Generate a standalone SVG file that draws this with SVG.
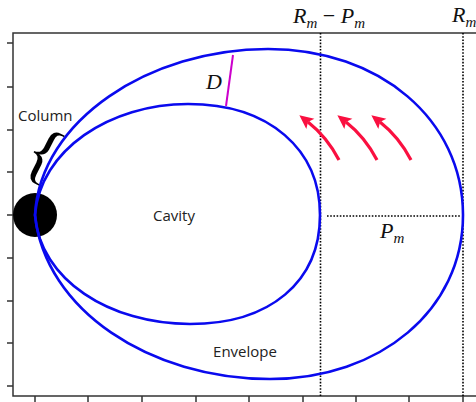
<svg xmlns="http://www.w3.org/2000/svg" width="476" height="402" viewBox="0 0 476 402">
<style>
.frame{stroke:#333;stroke-width:1.5;fill:none}
.tick{stroke:#333;stroke-width:1.5}
.dot{stroke:#000;stroke-width:1.6;stroke-dasharray:1.6,1.6;fill:none}
.blue{stroke:#0a0aee;stroke-width:2.6;fill:none}
.red{stroke:#fa1040;stroke-width:3.2;fill:none;marker-end:url(#ah)}
.lbl{font-family:"Open Sans","Noto Sans",sans-serif;font-size:15px;fill:#222}
.math{font-family:"Liberation Serif",serif;font-style:italic;font-size:22px;fill:#111}
.sub{font-size:15px}
</style>
<defs>
<marker id="ah" markerUnits="userSpaceOnUse" markerWidth="16" markerHeight="14" refX="3" refY="6.5" orient="auto">
<path d="M0,0 L14,6.5 L0,13 L3,6.5 z" fill="#fa1040"/>
</marker>
</defs>
<rect width="476" height="402" fill="#fff"/>
<g id="axes">
<path class="frame" d="M476,33 H13 V396 H476"/>
<path class="tick" d="M7,43H13M7,87H13M7,130H13M7,172H13M7,215H13M7,258H13M7,301H13M7,343H13M7,386H13"/>
<path class="tick" d="M35,396V402M88,396V402M142,396V402M196,396V402M249,396V402M303,396V402M356,396V402M409,396V402M463,396V402"/>
</g>
<g id="guides">
<path class="dot" d="M320.5,33V396"/>
<path class="dot" d="M463,33V396"/>
<path class="dot" d="M327,216H460"/>
</g>
<g id="column">
<circle cx="35" cy="215" r="22" fill="#000"/>
<text transform="translate(42,158) rotate(27)" x="0" y="17" text-anchor="middle" font-family="Liberation Serif,serif" font-size="68" fill="#000">{</text>
<text class="lbl" x="18" y="121">Column</text>
</g>
<g id="cavity">
<path class="blue" d="M35,215 C40,150 110,104 188,104 C270,104 320,150 320,215 C320,282 270,324 190,324 C110,324 40,280 35,215 Z"/>
<text class="lbl" x="174" y="221" text-anchor="middle">Cavity</text>
</g>
<g id="envelope">
<path class="blue" d="M35,215 C40,120 150,49 268,49 C380,49 463,120 463,215 C463,310 380,379 270,379 C150,379 45,310 35,215 Z"/>
<text class="lbl" x="245" y="357" text-anchor="middle">Envelope</text>
</g>
<g id="connectors">
<line x1="233" y1="55" x2="226" y2="106" stroke="#cc00cc" stroke-width="2"/>
<path class="red" d="M339,160 Q327,137 308,122"/>
<path class="red" d="M377,160 Q365,137 346,122"/>
<path class="red" d="M411,160 Q399,137 380,122"/>
</g>
<g id="labels">
<text class="math" x="206" y="89">D</text>
<text class="math" x="293" y="23">R<tspan class="sub" dy="5">m</tspan><tspan dy="-5" font-style="normal"> − </tspan>P<tspan class="sub" dy="5">m</tspan></text>
<text class="math" x="452" y="22">R<tspan class="sub" dy="5">m</tspan></text>
<text class="math" x="380" y="238">P<tspan class="sub" dy="5">m</tspan></text>
</g>
</svg>
